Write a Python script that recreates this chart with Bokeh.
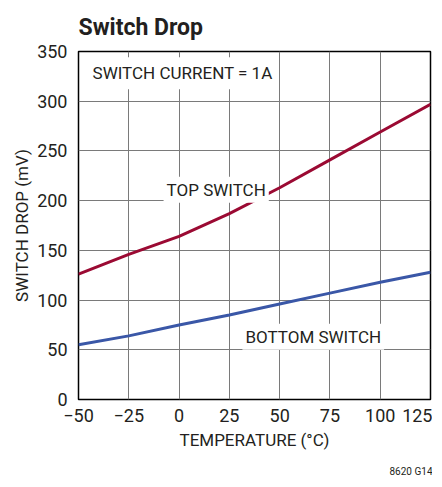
from bokeh.plotting import figure
from bokeh.models import Range1d, FixedTicker, Label, Title
from bokeh.embed import file_html
from bokeh.resources import INLINE

temperature = [-50, -25, 0, 25, 50, 75, 100, 125]
top_switch = [126, 146, 164, 187, 213, 241, 269, 297]
bottom_switch = [55, 64, 75, 85, 96, 107, 118, 128]
x_ticks = [-50, -25, 0, 25, 50, 75, 100, 125]
y_ticks = [0, 50, 100, 150, 200, 250, 300, 350]

FONT = "Roboto"
TXT = "#231f20"

p = figure(width=432, height=487, output_backend="svg", toolbar_location=None,
           x_range=Range1d(-50, 125), y_range=Range1d(0, 350),
           min_border_left=78, min_border_right=2, min_border_top=50, min_border_bottom=86,
           title="Switch Drop")
p.title.text_font = FONT
p.title.text_font_style = "bold"
p.title.text_font_size = "23px"
p.title.text_color = TXT
p.title.align = "left"
p.title.standoff = 22

p.outline_line_color = "black"
p.outline_line_width = 1.5
p.background_fill_color = "white"

p.xaxis.ticker = FixedTicker(ticks=x_ticks)
p.yaxis.ticker = FixedTicker(ticks=y_ticks)
p.xaxis.major_label_overrides = {t: (str(t).replace("-", "\u2212")) for t in x_ticks}
for ax in (p.xaxis, p.yaxis):
    ax.axis_line_color = None
    ax.major_tick_line_color = None
    ax.minor_tick_line_color = None
    ax.major_label_text_font = FONT
    ax.major_label_text_font_size = "18px"
    ax.major_label_text_color = TXT
    ax.axis_label_text_font = FONT
    ax.axis_label_text_font_size = "17px"
    ax.axis_label_text_font_style = "normal"
    ax.axis_label_text_color = TXT
p.xaxis.axis_label = "TEMPERATURE (°C)"
p.yaxis.axis_label = "SWITCH DROP (mV)"
p.xaxis.major_label_standoff = 3
p.yaxis.major_label_standoff = 5
p.xaxis.axis_label_standoff = 5
p.yaxis.axis_label_standoff = 2

p.grid.grid_line_color = "#7a7a7a"
p.grid.grid_line_width = 1

p.line(temperature, top_switch, line_color="#9b0a33", line_width=3)
p.line(temperature, bottom_switch, line_color="#3a57a7", line_width=3)

def add_label(x, y, text, size="17px", align="left", bg="white", pad=3):
    lab = Label(x=x, y=y, text=text, text_font=FONT, text_font_size=size,
                text_color=TXT, text_align=align, text_baseline="alphabetic",
                background_fill_color=bg, padding=pad)
    p.add_layout(lab)

add_label(-46, 328, "SWITCH CURRENT = 1A", pad=6)
add_label(-7.7, 211, "TOP SWITCH")
add_label(31.5, 63, "BOTTOM SWITCH")

note = Title(text="8620 G14", align="right", text_font=FONT, text_font_size="10px",
             text_font_style="normal", text_color=TXT, standoff=22, offset=-2)
p.add_layout(note, "below")

open("out.html", "w").write(file_html(p, INLINE))
